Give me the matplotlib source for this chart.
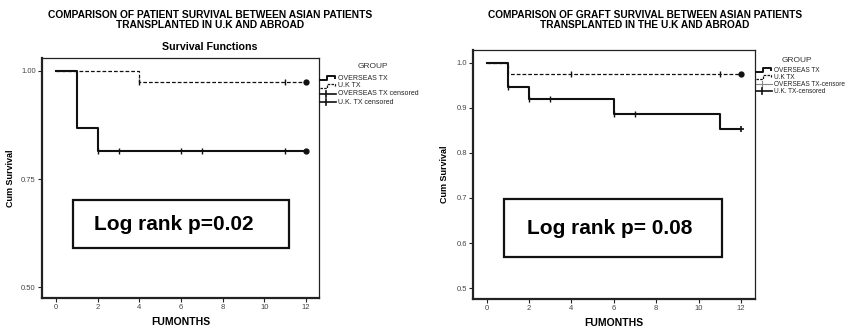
import matplotlib
matplotlib.use("Agg")
import matplotlib.pyplot as plt
from matplotlib.lines import Line2D
from matplotlib.patches import Rectangle

plt.rcParams['font.family'] = ['Liberation Sans', 'DejaVu Sans']

W, H = 850, 327

# ---- Patient survival (months, cumulative survival) ----
pat_over_t = [0, 1, 2, 12]
pat_over_s = [1.0, 0.867, 0.815, 0.815]
pat_over_cens = [2, 3, 6, 7, 11]
pat_uk_t = [0, 4, 12]
pat_uk_s = [1.0, 0.975, 0.975]
pat_uk_cens = [4, 11]

# ---- Graft survival ----
gr_over_t = [0, 1, 2, 6, 11, 12]
gr_over_s = [1.0, 0.947, 0.92, 0.887, 0.853, 0.853]
gr_over_cens = [1, 2, 3, 6, 7]
gr_uk_t = [0, 1, 12]
gr_uk_s = [1.0, 0.975, 0.975]
gr_uk_cens = [4, 11]

pat_yticks = [0.50, 0.75, 1.00]
pat_ylabels = ["0.50", "0.75", "1.00"]
gr_yticks = [0.5, 0.6, 0.7, 0.8, 0.9, 1.0]
gr_ylabels = ["0.5", "0.6", "0.7", "0.8", "0.9", "1.0"]
xticks = [0, 2, 4, 6, 8, 10, 12]

pat_legend = ["OVERSEAS TX", "U.K TX", "OVERSEAS TX censored", "U.K. TX censored"]
gr_legend = ["OVERSEAS TX", "U.K TX", "OVERSEAS TX-censore", "U.K. TX-censored"]


def fx(px):
    return px / W


def fy(py):
    return 1 - py / H


def surv_at(t, times, surv):
    val = surv[0]
    for ti, si in zip(times, surv):
        if ti <= t:
            val = si
    return val


fig = plt.figure(figsize=(8.5, 3.27), dpi=100)


def make_axes(left, right, top, bottom, xlim, ylim, yticks, ylabels, ylab_x):
    ax = fig.add_axes([fx(left), fy(bottom), fx(right - left), fy(top) - fy(bottom)])
    ax.set_xlim(*xlim)
    ax.set_ylim(*ylim)
    ax.set_xticks(xticks)
    ax.set_xticklabels([str(v) for v in xticks])
    ax.set_yticks(yticks)
    ax.set_yticklabels(ylabels)
    ax.tick_params(direction='out', length=3, width=0.8, labelsize=5.5,
                   labelcolor='#444444', color='#222222', pad=1.5)
    for s in ('left', 'bottom'):
        ax.spines[s].set_linewidth(1.6)
        ax.spines[s].set_color('#222222')
    for s in ('top', 'right'):
        ax.spines[s].set_linewidth(0.9)
        ax.spines[s].set_color('#222222')
    ax.set_xlabel("FUMONTHS", fontsize=7.5, fontweight='bold', labelpad=4)
    ax.set_ylabel("Cum Survival", fontsize=6.5, fontweight='bold')
    ax.yaxis.set_label_coords((ylab_x - left) / (right - left), 0.5)
    return ax


def draw_curve(ax, t, s, cens, dashed, end_marker):
    if dashed:
        ax.step(t, s, where='post', color='#111111', lw=0.9, ls=(0, (3, 1.6)))
    else:
        ax.step(t, s, where='post', color='#111111', lw=1.5)
    cy = [surv_at(c, t, s) for c in cens]
    ax.plot(cens, cy, ls='none', marker='|', ms=4, mew=1.0, color='#111111')
    if end_marker == 'o':
        ax.plot([t[-1]], [s[-1]], ls='none', marker='o', ms=3.5, color='#111111')
    else:
        ax.plot([t[-1]], [s[-1]], ls='none', marker='+', ms=5, mew=1.2, color='#111111')


def legend(title_x, title_y, icon_x0, rows_y, labels, censor_colors, fs):
    fig.text(fx(title_x), fy(title_y), "GROUP", fontsize=6, color='#333333',
             ha='center', va='center')
    x0, x1 = icon_x0, icon_x0 + 16
    for i, (lab, ry) in enumerate(zip(labels, rows_y)):
        if i < 2:
            xs = [x0, x0 + 7, x0 + 7, x1 - 1, x1 - 1]
            ys = [ry + 2, ry + 2, ry - 2, ry - 2, ry]
            style = dict(lw=1.4, color='#111111') if i == 0 else \
                dict(lw=0.9, color='#111111', ls=(0, (2, 1)))
            fig.add_artist(Line2D([fx(v) for v in xs], [fy(v) for v in ys], **style))
        else:
            col, lw = censor_colors[i - 2]
            fig.add_artist(Line2D([fx(x0), fx(x1)], [fy(ry), fy(ry)], lw=lw, color=col))
            fig.add_artist(Line2D([fx(x0 + 6), fx(x0 + 6)], [fy(ry - 3), fy(ry + 3)],
                                  lw=lw, color=col))
        fig.text(fx(x1 + 1.5), fy(ry), lab, fontsize=fs, color='#222222',
                 ha='left', va='center')


# ---------------- Patient survival panel ----------------
ax1 = make_axes(42, 319, 58, 298, (-0.673, 12.625), (0.475, 1.030),
                pat_yticks, pat_ylabels, 15)
draw_curve(ax1, pat_uk_t, pat_uk_s, pat_uk_cens, True, 'o')
draw_curve(ax1, pat_over_t, pat_over_s, pat_over_cens, False, 'o')

fig.text(fx(210), fy(14.5), "COMPARISON OF PATIENT SURVIVAL BETWEEN ASIAN PATIENTS",
         fontsize=7.4, fontweight='bold', ha='center', va='center')
fig.text(fx(210), fy(25), "TRANSPLANTED IN U.K AND ABROAD",
         fontsize=7.4, fontweight='bold', ha='center', va='center')
fig.text(fx(210), fy(47), "Survival Functions",
         fontsize=7.7, fontweight='bold', ha='center', va='center')

fig.add_artist(Rectangle((fx(73), fy(248)), fx(289 - 73), fy(200) - fy(248),
                         transform=fig.transFigure, fill=False, lw=1.6, ec='#111111'))
fig.text(fx(174), fy(225), "Log rank p=0.02", fontsize=15, fontweight='bold',
         ha='center', va='center')

legend(373, 67, 320, [78, 85.5, 93.5, 102],
       pat_legend, [('#111111', 1.2), ('#111111', 1.2)], 5.0)

# ---------------- Graft survival panel ----------------
ax2 = make_axes(473, 755, 50, 299, (-0.646, 12.66), (0.476, 1.028),
                gr_yticks, gr_ylabels, 449)
draw_curve(ax2, gr_uk_t, gr_uk_s, gr_uk_cens, True, 'o')
draw_curve(ax2, gr_over_t, gr_over_s, gr_over_cens, False, '+')

fig.text(fx(645), fy(14.5), "COMPARISON OF GRAFT SURVIVAL BETWEEN ASIAN PATIENTS",
         fontsize=7.3, fontweight='bold', ha='center', va='center')
fig.text(fx(645), fy(25), "TRANSPLANTED IN THE U.K AND ABROAD",
         fontsize=7.3, fontweight='bold', ha='center', va='center')

fig.add_artist(Rectangle((fx(504), fy(257)), fx(722 - 504), fy(199) - fy(257),
                         transform=fig.transFigure, fill=False, lw=1.6, ec='#111111'))
fig.text(fx(610), fy(229), "Log rank p= 0.08", fontsize=15, fontweight='bold',
         ha='center', va='center')

legend(797, 60, 756, [70, 77.3, 84, 91.3],
       gr_legend, [('#888888', 0.8), ('#111111', 1.2)], 4.7)

fig.savefig("out.png", dpi=100)
